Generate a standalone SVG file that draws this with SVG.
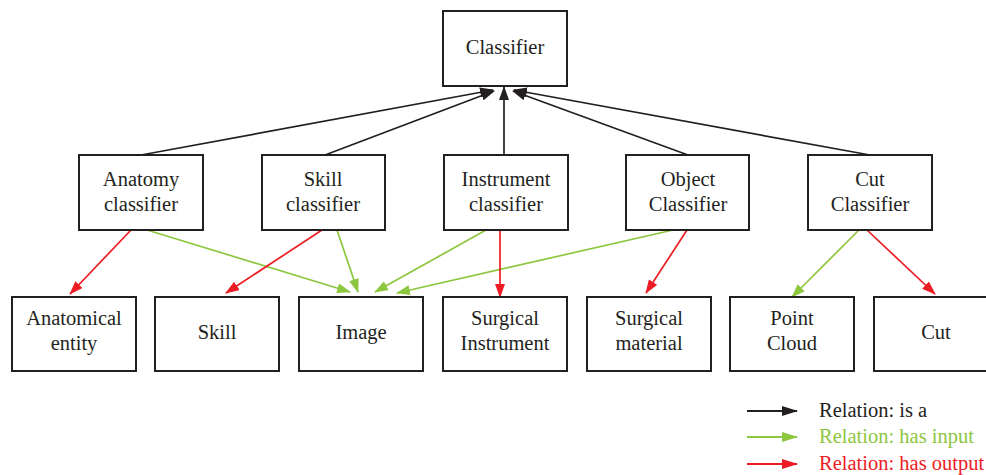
<svg xmlns="http://www.w3.org/2000/svg" width="986" height="475" viewBox="0 0 986 475">
  <style>
    text { font-family: "Liberation Serif", "Times New Roman", Times, serif; font-size: 20.5px; }
    .box { fill: #ffffff; stroke: #231f20; stroke-width: 2; }
    .lbl { fill: #231f20; text-anchor: middle; }
    .isa { stroke: #231f20; stroke-width: 1.7; fill: none; marker-end: url(#ah-black); }
    .inp { stroke: #8dc63f; stroke-width: 1.7; fill: none; marker-end: url(#ah-green); }
    .out { stroke: #ed1c24; stroke-width: 1.7; fill: none; marker-end: url(#ah-red); }
    .legline { stroke-width: 2; }
  </style>
  <defs>
    <marker id="ah-black" markerUnits="userSpaceOnUse" markerWidth="14" markerHeight="10" refX="13" refY="5" orient="auto">
      <path d="M0,0 L14,5 L0,10 Z" fill="#231f20"/>
    </marker>
    <marker id="ah-green" markerUnits="userSpaceOnUse" markerWidth="14" markerHeight="10" refX="13" refY="5" orient="auto">
      <path d="M0,0 L14,5 L0,10 Z" fill="#8dc63f"/>
    </marker>
    <marker id="ah-red" markerUnits="userSpaceOnUse" markerWidth="14" markerHeight="10" refX="13" refY="5" orient="auto">
      <path d="M0,0 L14,5 L0,10 Z" fill="#ed1c24"/>
    </marker>
    <marker id="lg-black" markerUnits="userSpaceOnUse" markerWidth="16" markerHeight="10" refX="15" refY="5" orient="auto">
      <path d="M0,0 L16,5 L0,10 Z" fill="#231f20"/>
    </marker>
    <marker id="lg-green" markerUnits="userSpaceOnUse" markerWidth="16" markerHeight="10" refX="15" refY="5" orient="auto">
      <path d="M0,0 L16,5 L0,10 Z" fill="#8dc63f"/>
    </marker>
    <marker id="lg-red" markerUnits="userSpaceOnUse" markerWidth="16" markerHeight="10" refX="15" refY="5" orient="auto">
      <path d="M0,0 L16,5 L0,10 Z" fill="#ed1c24"/>
    </marker>
  </defs>

  <rect width="986" height="475" fill="#ffffff"/>

  <!-- connectors -->
  <g id="connectors">
    <!-- is a -->
    <path class="isa" d="M141,155 L493,90"/>
    <path class="isa" d="M325,155 L494,91"/>
    <path class="isa" d="M504,155 L504,87"/>
    <path class="isa" d="M688,155 L513,91"/>
    <path class="isa" d="M870,155 L514,90"/>
    <!-- has input -->
    <path class="inp" d="M147,230 L350,292"/>
    <path class="inp" d="M337,230 L358,292"/>
    <path class="inp" d="M486,230 L375,292"/>
    <path class="inp" d="M673,230 L397,293"/>
    <path class="inp" d="M859,230 L792,297"/>
    <!-- has output -->
    <path class="out" d="M131,230 L70,294"/>
    <path class="out" d="M322,230 L226,293"/>
    <path class="out" d="M500,230 L500,297"/>
    <path class="out" d="M687,230 L646,293"/>
    <path class="out" d="M867,230 L935,294"/>
  </g>

  <!-- top node -->
  <g id="classifier">
    <rect class="box" x="443" y="11" width="124" height="75"/>
    <text class="lbl" x="505" y="54">Classifier</text>
  </g>

  <!-- classifier nodes -->
  <g id="anatomy-classifier">
    <rect class="box" x="79" y="155" width="124" height="75"/>
    <text class="lbl" x="141" y="186">Anatomy</text>
    <text class="lbl" x="141" y="211">classifier</text>
  </g>
  <g id="skill-classifier">
    <rect class="box" x="262" y="155" width="123" height="75"/>
    <text class="lbl" x="323" y="186">Skill</text>
    <text class="lbl" x="323" y="211">classifier</text>
  </g>
  <g id="instrument-classifier">
    <rect class="box" x="444" y="155" width="124" height="75"/>
    <text class="lbl" x="506" y="186">Instrument</text>
    <text class="lbl" x="506" y="211">classifier</text>
  </g>
  <g id="object-classifier">
    <rect class="box" x="626" y="155" width="123" height="75"/>
    <text class="lbl" x="688" y="186">Object</text>
    <text class="lbl" x="688" y="211">Classifier</text>
  </g>
  <g id="cut-classifier">
    <rect class="box" x="808" y="155" width="124" height="75"/>
    <text class="lbl" x="870" y="186">Cut</text>
    <text class="lbl" x="870" y="211">Classifier</text>
  </g>

  <!-- data nodes -->
  <g id="anatomical-entity">
    <rect class="box" x="12" y="297" width="124" height="74"/>
    <text class="lbl" x="74" y="325">Anatomical</text>
    <text class="lbl" x="74" y="350">entity</text>
  </g>
  <g id="skill">
    <rect class="box" x="155" y="297" width="124" height="74"/>
    <text class="lbl" x="217" y="339">Skill</text>
  </g>
  <g id="image">
    <rect class="box" x="299" y="297" width="124" height="74"/>
    <text class="lbl" x="361" y="339">Image</text>
  </g>
  <g id="surgical-instrument">
    <rect class="box" x="443" y="297" width="124" height="74"/>
    <text class="lbl" x="505" y="325">Surgical</text>
    <text class="lbl" x="505" y="350">Instrument</text>
  </g>
  <g id="surgical-material">
    <rect class="box" x="587" y="297" width="124" height="74"/>
    <text class="lbl" x="649" y="325">Surgical</text>
    <text class="lbl" x="649" y="350">material</text>
  </g>
  <g id="point-cloud">
    <rect class="box" x="730" y="297" width="124" height="74"/>
    <text class="lbl" x="792" y="325">Point</text>
    <text class="lbl" x="792" y="350">Cloud</text>
  </g>
  <g id="cut">
    <rect class="box" x="874" y="297" width="124" height="74"/>
    <text class="lbl" x="936" y="339">Cut</text>
  </g>

  <!-- legend -->
  <g id="legend">
    <path class="isa legline" d="M747,411 L797,411" marker-end="url(#lg-black)" style="marker-end:url(#lg-black)"/>
    <text x="819" y="417" fill="#231f20">Relation: is a</text>
    <path class="inp legline" d="M747,437 L797,437" style="marker-end:url(#lg-green)"/>
    <text x="819" y="443" fill="#8dc63f">Relation: has input</text>
    <path class="out legline" d="M747,464 L797,464" style="marker-end:url(#lg-red)"/>
    <text x="819" y="470" fill="#ed1c24">Relation: has output</text>
  </g>
</svg>
